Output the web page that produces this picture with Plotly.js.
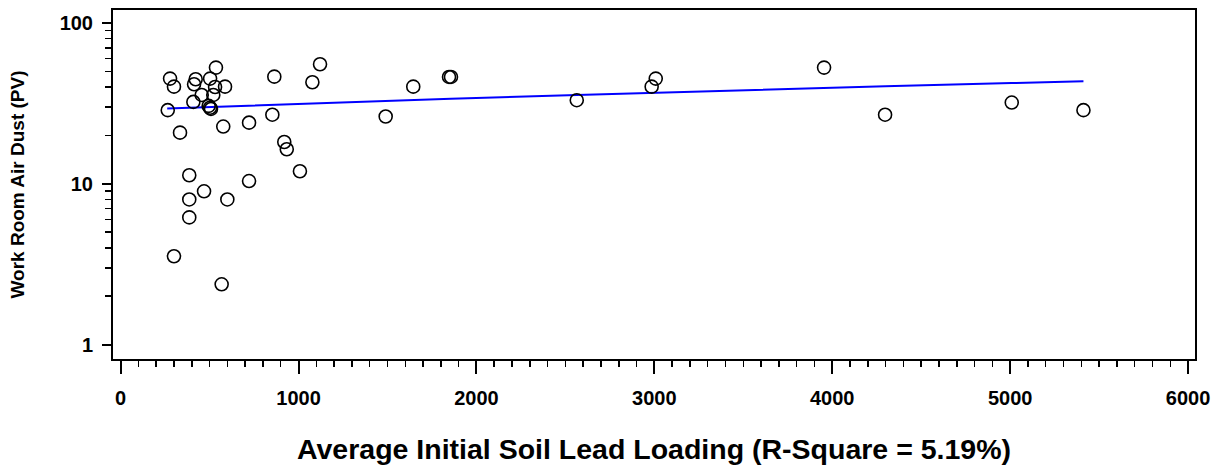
<!DOCTYPE html>
<html>
<head>
<meta charset="utf-8">
<script src="https://cdn.plot.ly/plotly-3.0.1.min.js"></script>
<style>
  html, body { margin: 0; padding: 0; background: #fff; }
  #chart { width: 1224px; height: 472px; }
</style>
</head>
<body>
<div id="chart"></div>
<script>
// Average initial soil lead loading (x) and work room air dust (y)
const soilLead = [278, 300, 265, 334, 422, 413, 409, 456, 536, 503, 531, 521, 587,
  495, 503, 508, 577, 722, 853, 864, 1078, 1121, 920, 934, 1008, 1490, 722, 386,
  469, 386, 600, 386, 300, 568, 1645, 1846, 1857, 2564, 2985, 3008, 3954, 4297,
  5009, 5412];
const airDust = [45.1, 40.2, 28.7, 20.8, 44.7, 41.6, 32.3, 35.7, 52.8, 45.1, 40.0,
  35.7, 40.2, 30.5, 29.7, 29.2, 22.7, 24.0, 26.9, 46.4, 42.8, 55.4, 18.2, 16.4,
  11.96, 26.2, 10.4, 11.3, 8.98, 7.99, 7.99, 6.18, 3.54, 2.37, 40.2, 46.2, 46.2,
  33.1, 40.2, 45.1, 52.8, 26.9, 32.0, 28.7];

// Regression line (predicted values)
const fitX = [262, 500, 1000, 1121, 1490, 1645, 1857, 2564, 3008, 3954, 4297, 5009, 5412];
const fitY = [29.4, 30.06, 31.42, 31.75, 32.75, 33.17, 33.75, 35.67, 36.88, 39.46, 40.39, 42.32, 43.42];

const xTickVals = [0, 1000, 2000, 3000, 4000, 5000, 6000];
const xTickText = ['0', '1000', '2000', '3000', '4000', '5000', '6000'];
const yTickVals = [1, 10, 100];
const yTickText = ['1', '10', '100'];
const yMinorVals = [2, 3, 4, 5, 6, 7, 8, 9, 20, 30, 40, 50, 60, 70, 80, 90];

const FONT = "Arial, 'Liberation Sans', sans-serif";

const traces = [
  {
    x: fitX, y: fitY, type: 'scatter', mode: 'lines',
    line: { color: '#0000ff', width: 2 },
    hoverinfo: 'skip', showlegend: false
  },
  {
    x: soilLead, y: airDust, type: 'scatter', mode: 'markers',
    marker: { symbol: 'circle-open', size: 13, color: '#000', line: { color: '#000', width: 1.6 } },
    showlegend: false
  }
];

const layout = {
  width: 1224, height: 472,
  margin: { l: 113, r: 29, t: 10, b: 113 },
  paper_bgcolor: '#fff', plot_bgcolor: '#fff',
  showlegend: false,
  font: { family: FONT, color: '#000' },
  xaxis: {
    range: [-42.7, 6039],
    tickmode: 'array', tickvals: xTickVals, ticktext: xTickText,
    ticks: 'outside', ticklen: 13, tickwidth: 2, tickcolor: '#000',
    minor: { dtick: 100, tick0: 0, ticks: 'outside', ticklen: 6, tickwidth: 1.5, tickcolor: '#000' },
    showline: true, linecolor: '#000', linewidth: 2, mirror: true,
    showgrid: false, zeroline: false,
    ticklabelstandoff: 7,
    tickfont: { family: FONT, size: 20, weight: 'bold', color: '#000' },
    title: {
      text: 'Average Initial Soil Lead Loading (R-Square = 5.19%)',
      font: { family: FONT, size: 28.5, weight: 'bold', color: '#000' },
      standoff: 31
    },
    automargin: false
  },
  yaxis: {
    type: 'log',
    range: [-0.090, 2.081],
    tickmode: 'array', tickvals: yTickVals, ticktext: yTickText,
    ticks: 'outside', ticklen: 9, tickwidth: 2, tickcolor: '#000',
    minor: { tickmode: 'array', tickvals: yMinorVals, ticks: 'outside', ticklen: 6, tickwidth: 1.5, tickcolor: '#000' },
    showline: true, linecolor: '#000', linewidth: 2, mirror: true,
    showgrid: false, zeroline: false,
    ticklabelstandoff: 5,
    tickfont: { family: FONT, size: 20, weight: 'bold', color: '#000' },
    title: {
      text: 'Work Room Air Dust (PV)',
      font: { family: FONT, size: 19, weight: 'bold', color: '#000' },
      standoff: 30
    },
    automargin: false
  }
};

Plotly.newPlot('chart', traces, layout, { staticPlot: true, displayModeBar: false });
</script>
</body>
</html>
